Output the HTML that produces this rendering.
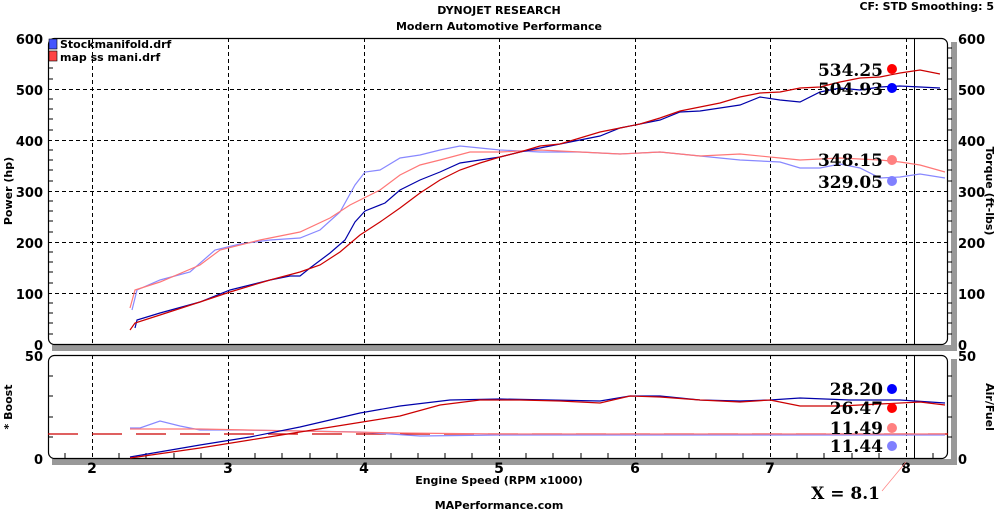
<!DOCTYPE html>
<html><head><meta charset="utf-8"><style>
html,body{margin:0;padding:0;background:#fff;width:998px;height:512px;overflow:hidden}
svg text{font-family:"DejaVu Sans","Liberation Sans",sans-serif;font-weight:bold}
svg text.v{font-family:"DejaVu Serif","Liberation Serif",serif}
</style></head><body>
<svg width="998" height="512" viewBox="0 0 998 512" xmlns="http://www.w3.org/2000/svg">
<text x="499" y="14" font-size="11" text-anchor="middle">DYNOJET RESEARCH</text>
<text x="499" y="30" font-size="11" text-anchor="middle">Modern Automotive Performance</text>
<text x="994" y="10" font-size="11" text-anchor="end">CF: STD  Smoothing: 5</text>
<text x="499" y="484" font-size="11" text-anchor="middle">Engine Speed (RPM x1000)</text>
<text x="499" y="509" font-size="11" text-anchor="middle">MAPerformance.com</text>

<path d="M52 348 H954 V42" fill="none" stroke="#999" stroke-width="6"/>
<path d="M52 462 H954 V359" fill="none" stroke="#999" stroke-width="6"/>
<rect x="48.5" y="38.5" width="899" height="306" rx="6" fill="#fff" stroke="#000" stroke-width="1.2"/>
<rect x="48.5" y="355.5" width="899" height="103" rx="6" fill="#fff" stroke="#000" stroke-width="1.2"/>

<g stroke="#000" stroke-dasharray="4,3" stroke-width="1">
<line x1="92.5" y1="38" x2="92.5" y2="344"/><line x1="228.5" y1="38" x2="228.5" y2="344"/><line x1="364.5" y1="38" x2="364.5" y2="344"/><line x1="499.5" y1="38" x2="499.5" y2="344"/><line x1="635.5" y1="38" x2="635.5" y2="344"/><line x1="770.5" y1="38" x2="770.5" y2="344"/><line x1="906.5" y1="38" x2="906.5" y2="344"/>
<line x1="48" y1="89.5" x2="948" y2="89.5"/><line x1="48" y1="140.5" x2="948" y2="140.5"/><line x1="48" y1="191.5" x2="948" y2="191.5"/><line x1="48" y1="242.5" x2="948" y2="242.5"/><line x1="48" y1="293.5" x2="948" y2="293.5"/>
<line x1="92.5" y1="355" x2="92.5" y2="458"/><line x1="228.5" y1="355" x2="228.5" y2="458"/><line x1="364.5" y1="355" x2="364.5" y2="458"/><line x1="499.5" y1="355" x2="499.5" y2="458"/><line x1="635.5" y1="355" x2="635.5" y2="458"/><line x1="770.5" y1="355" x2="770.5" y2="458"/><line x1="906.5" y1="355" x2="906.5" y2="458"/>
</g>
<line x1="914.5" y1="38" x2="914.5" y2="344" stroke="#000"/>
<line x1="914.5" y1="355" x2="914.5" y2="458" stroke="#000"/>

<g stroke="#000">
<path d="M48 48h5M48 58h5M48 68h5M48 79h5M48 99h5M48 109h5M48 119h5M48 130h5M48 150h5M48 160h5M48 170h5M48 181h5M48 201h5M48 211h5M48 221h5M48 232h5M48 252h5M48 262h5M48 272h5M48 283h5M48 303h5M48 313h5M48 323h5M48 334h5"/>
<path d="M948 48h4M948 58h4M948 68h4M948 79h4M948 99h4M948 109h4M948 119h4M948 130h4M948 150h4M948 160h4M948 170h4M948 181h4M948 201h4M948 211h4M948 221h4M948 232h4M948 252h4M948 262h4M948 272h4M948 283h4M948 303h4M948 313h4M948 323h4M948 334h4"/>
<path d="M48 376h5M48 396h5M48 417h5M48 437h5M948 376h4M948 396h4M948 417h4M948 437h4"/>
<path d="M65 458v-5M119 458v-5M146 458v-5M174 458v-5M201 458v-5M255 458v-5M282 458v-5M310 458v-5M337 458v-5M391 458v-5M418 458v-5M445 458v-5M472 458v-5M526 458v-5M553 458v-5M581 458v-5M608 458v-5M662 458v-5M689 458v-5M716 458v-5M743 458v-5M797 458v-5M824 458v-5M852 458v-5M879 458v-5M933 458v-5"/>
</g>

<g font-size="13" text-anchor="end">
<text x="43" y="44">600</text><text x="43" y="95">500</text><text x="43" y="146">400</text><text x="43" y="197">300</text><text x="43" y="248">200</text><text x="43" y="299">100</text><text x="43" y="350">0</text>
<text x="43" y="361">50</text><text x="43" y="464">0</text>
</g>
<g font-size="13">
<text x="958" y="44">600</text><text x="958" y="95">500</text><text x="958" y="146">400</text><text x="958" y="197">300</text><text x="958" y="248">200</text><text x="958" y="299">100</text><text x="958" y="350">0</text>
<text x="958" y="361">50</text><text x="958" y="464">0</text>
</g>
<g font-size="14" text-anchor="middle">
<text x="92" y="473">2</text><text x="228" y="473">3</text><text x="364" y="473">4</text><text x="499" y="473">5</text><text x="635" y="473">6</text><text x="770" y="473">7</text><text x="906" y="473">8</text>
</g>
<text font-size="11" transform="translate(12,191) rotate(-90)" text-anchor="middle">Power (hp)</text>
<text font-size="11" transform="translate(986,191) rotate(90)" text-anchor="middle">Torque (ft-lbs)</text>
<text font-size="11" transform="translate(12,407) rotate(-90)" text-anchor="middle">* Boost</text>
<text font-size="11" transform="translate(986,407) rotate(90)" text-anchor="middle">Air/Fuel</text>

<rect x="49" y="39" width="8" height="10" fill="#4455ff" stroke="#000" stroke-width="0.6"/>
<rect x="49" y="51" width="8" height="10" fill="#ff4444" stroke="#000" stroke-width="0.6"/>
<text x="60" y="48" font-size="11">Stockmanifold.drf</text>
<text x="60" y="61" font-size="11">map ss mani.drf</text>

<g fill="none" stroke-width="1.2">
<polyline stroke="#8888ff" points="132,310 137,290 160,280 190,272 215,250 240,244 270,240 300,238 320,230 340,212 355,185 365,172 380,170 400,158 420,155 440,150 460,146 480,148 500,150 540,152 580,152 620,154 660,152 700,156 740,160 780,162 800,168 820,168 840,164 860,168 880,178 900,177 920,174 945,178"/>
<polyline stroke="#ff7777" points="130,308 135,290 160,282 200,265 220,250 260,240 300,232 330,218 350,205 380,190 400,175 420,165 440,160 470,152 500,152 540,150 580,152 620,154 660,152 700,156 740,154 780,158 800,160 840,158 880,160 900,162 920,165 945,172"/>
<polyline stroke="#0000aa" points="135,328 137,320 160,313 200,302 230,290 270,280 290,276 300,276 310,268 330,253 345,240 355,222 365,211 385,203 400,190 420,180 440,172 460,163 480,160 500,157 520,152 540,148 560,144 580,140 600,136 620,128 660,120 680,112 700,111 720,108 740,105 760,97 780,100 800,102 820,92 840,88 860,90 880,87 900,86 920,87 940,88"/>
<polyline stroke="#cc0000" points="130,330 135,323 160,315 200,302 230,292 270,280 300,272 320,265 340,252 360,235 380,222 400,208 420,193 440,180 460,170 480,163 500,157 520,152 540,146 560,144 580,138 600,132 620,128 640,124 660,118 680,111 700,107 720,103 740,97 760,93 780,92 800,88 820,87 840,82 860,78 880,77 900,73 920,70 940,74"/>
<line x1="48" y1="434" x2="948" y2="434" stroke="#cc0000" stroke-dasharray="30,14"/>
<polyline stroke="#8888ff" points="130,428 140,428 160,421 180,426 200,430 240,430 300,431 360,432 420,436 500,435 600,435 700,435 800,435 900,435 945,435"/>
<polyline stroke="#ff7777" points="130,429 200,429 300,431 400,433 500,434 945,434"/>
<polyline stroke="#0000aa" points="130,457 200,445 250,437 300,427 330,420 360,413 400,406 450,400 500,399 550,400 600,401 630,396 660,396 700,400 740,401 770,400 800,398 850,400 900,400 945,403"/>
<polyline stroke="#cc0000" points="130,458 200,448 250,440 300,432 350,424 400,416 440,405 480,400 520,400 560,401 600,403 630,396 660,397 700,400 740,402 770,400 800,406 840,406 880,404 920,402 945,405"/>
</g>

<g font-size="17" text-anchor="end">
<text class="v" x="883" y="76">534.25</text><text class="v" x="883" y="95">504.93</text><text class="v" x="883" y="166">348.15</text><text class="v" x="883" y="188">329.05</text>
<text class="v" x="883" y="395">28.20</text><text class="v" x="883" y="414">26.47</text><text class="v" x="883" y="434">11.49</text><text class="v" x="883" y="452">11.44</text>
<text class="v" x="880" y="499">X = 8.1</text>
</g>
<circle cx="892" cy="69" r="5" fill="#ff0000"/><circle cx="892" cy="88" r="5" fill="#0000ff"/>
<circle cx="892" cy="160" r="5" fill="#ff8080"/><circle cx="892" cy="181" r="5" fill="#8080ff"/>
<circle cx="892" cy="389" r="5" fill="#0000ff"/><circle cx="892" cy="408" r="5" fill="#ff0000"/>
<circle cx="892" cy="428" r="5" fill="#ff8080"/><circle cx="892" cy="446" r="5" fill="#8080ff"/>
<line x1="882" y1="491" x2="906" y2="462" stroke="#ff8080" stroke-width="0.7"/>
</svg>
</body></html>
